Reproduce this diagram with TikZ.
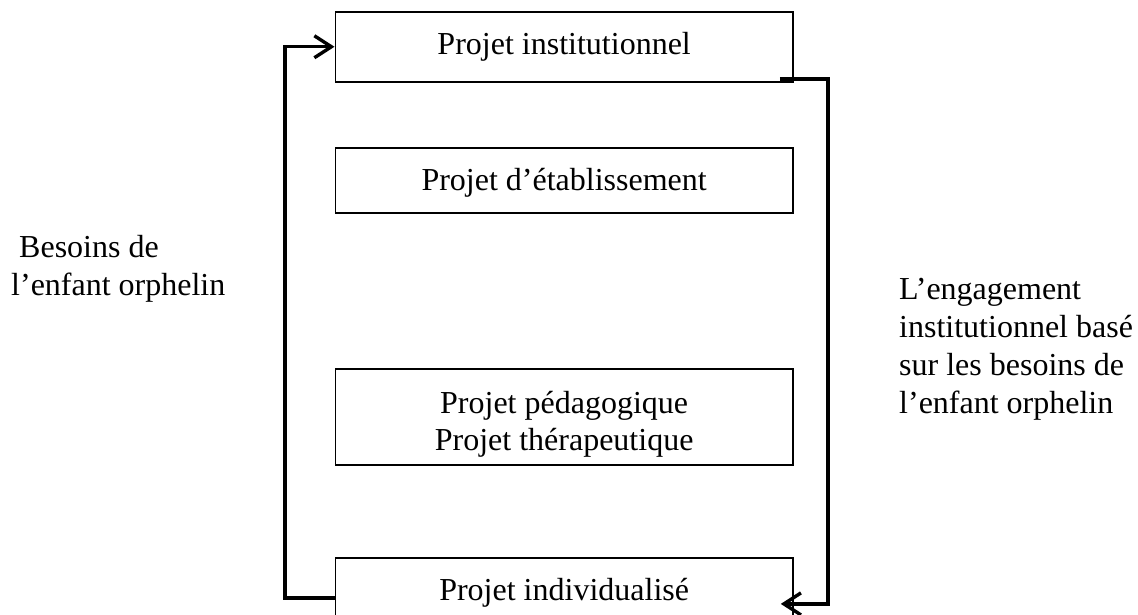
\documentclass[tikz,border=0pt]{standalone}
\usepackage{fontspec}
\setmainfont{Liberation Serif}
\usetikzlibrary{arrows.meta}
\newcommand{\lowered}[2]{\raisebox{-#1}[\height][\depth]{#2}}
\begin{document}
\begin{tikzpicture}[x=1pt,y=-1pt,
  projbox/.style={draw, line width=1.8pt, minimum width=457.5pt, inner sep=0pt,
    anchor=north west, font=\fontsize{32}{37}\selectfont, align=center},
  conn/.style={line width=3.4pt, -{Straight Barb[length=17pt,width=22pt]}},
  lbl/.style={anchor=base west, inner sep=0pt, font=\fontsize{32}{38}\selectfont}]
\path[use as bounding box] (0,0) rectangle (1138,614);
\clip (0,0) rectangle (1138,614);
\node[projbox, minimum height=70.3pt] (inst) at (334.5,10.7) {Projet institutionnel};
\node[projbox, minimum height=65pt] (etab) at (334.5,146.7) {\lowered{3pt}{Projet d’établissement}};
\node[projbox, minimum height=96pt] (peda) at (334.5,368.3) {\lowered{7pt}{\begin{tabular}{@{}c@{}}Projet pédagogique\\Projet thérapeutique\end{tabular}}};
\node[projbox, minimum height=70pt] (indiv) at (334.5,557) {Projet individualisé};
\draw[conn] ([yshift=-5pt]indiv.west) -- ++(-49.5,0) |- (inst.west);
\draw[conn] ([xshift=-14pt,yshift=4pt]inst.south east) -- ++(48,0) |- ([xshift=-13pt,yshift=-11pt]indiv.east);
\node[lbl] (needs) at (11,257.5) {\begin{tabular}[t]{@{}l@{}}\hspace*{8pt}Besoins de\\ l’enfant orphelin\end{tabular}};
\node[lbl] (engage) at (899,299) {\begin{tabular}[t]{@{}l@{}}L’engagement\\ institutionnel basé\\ sur les besoins de\\ l’enfant orphelin\end{tabular}};
\end{tikzpicture}
\end{document}
